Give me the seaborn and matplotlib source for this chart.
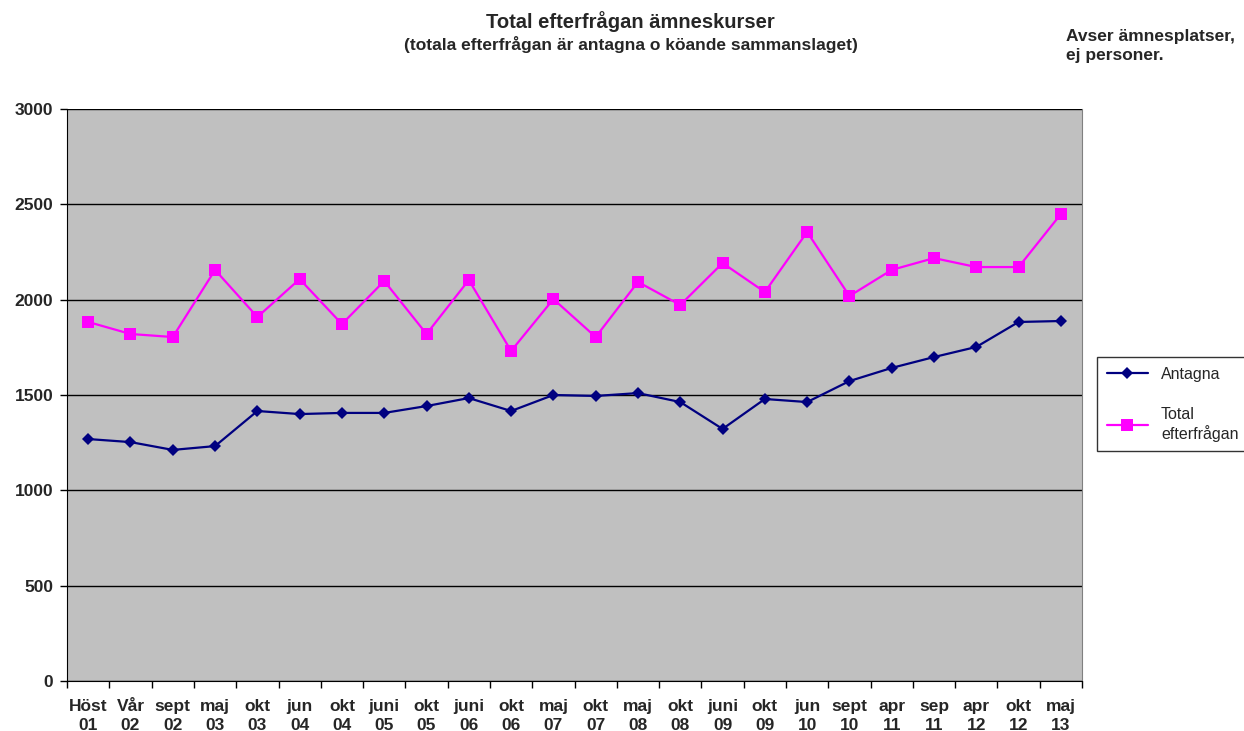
import numpy as np
import pandas as pd
import matplotlib
matplotlib.use("Agg")
import matplotlib.pyplot as plt
import seaborn as sns
from matplotlib.ticker import FixedLocator

# ==========================================
# DATA
# ==========================================
periods = ["Höst\n01", "Vår\n02", "sept\n02", "maj\n03", "okt\n03", "jun\n04",
           "okt\n04", "juni\n05", "okt\n05", "juni\n06", "okt\n06", "maj\n07",
           "okt\n07", "maj\n08", "okt\n08", "juni\n09", "okt\n09", "jun\n10",
           "sept\n10", "apr\n11", "sep\n11", "apr\n12", "okt\n12", "maj\n13"]
antagna = [1269, 1253, 1212, 1232, 1416, 1400, 1406, 1406, 1442, 1484, 1416, 1500,
           1495, 1510, 1463, 1322, 1479, 1463, 1573, 1642, 1699, 1752, 1883, 1888]
total = [1883, 1820, 1804, 2156, 1909, 2108, 1872, 2098, 1820, 2103, 1731, 2003,
         1804, 2093, 1972, 2192, 2040, 2355, 2019, 2156, 2218, 2171, 2171, 2449]

df = pd.DataFrame({"pos": np.arange(len(periods)), "Antagna": antagna,
                   "Total\nefterfrågan": total})
long_df = df.melt(id_vars="pos", var_name="serie", value_name="antal")

# ==========================================
# STYLE
# ==========================================
sns.set_style("white")
plt.rcParams["font.family"] = ["Liberation Sans", "DejaVu Sans"]

fig = plt.figure(figsize=(12.44, 7.31), dpi=100)
ax = fig.add_axes([0.0539, 0.0684, 0.8159, 0.7825])
ax.set_facecolor("#C0C0C0")

sns.lineplot(data=long_df, x="pos", y="antal", hue="serie", style="serie",
             palette={"Antagna": "#000080", "Total\nefterfrågan": "#FF00FF"},
             markers={"Antagna": "D", "Total\nefterfrågan": "s"},
             dashes=False, linewidth=1.6, markeredgewidth=0, ax=ax,
             legend=True)
for line in ax.get_lines():
    if line.get_marker() == "D":
        line.set_markersize(6)
    elif line.get_marker() == "s":
        line.set_markersize(9)

# axes
ax.set_xlim(-0.5, len(periods) - 0.5)
ax.set_ylim(0, 3000)
ax.set_yticks(np.arange(0, 3001, 500))
ax.yaxis.grid(True, color="black", linewidth=1)
ax.set_axisbelow(True)
ax.set_xlabel("")
ax.set_ylabel("")

ax.set_xticks(np.arange(len(periods)))
ax.set_xticklabels(periods, fontsize=12.5, fontweight="bold", linespacing=1.3)
ax.xaxis.set_minor_locator(FixedLocator(np.arange(-0.5, len(periods), 1.0)))
ax.tick_params(axis="x", which="major", length=0, pad=13)
ax.tick_params(axis="x", which="minor", length=5, width=1, color="black",
               direction="out", bottom=True)
ax.tick_params(axis="y", length=5, width=1, color="black", direction="out",
               left=True, labelsize=12.5, pad=5)
for lab in ax.get_yticklabels():
    lab.set_fontweight("bold")

ax.spines["left"].set_color("black")
ax.spines["bottom"].set_color("black")
ax.spines["top"].set_visible(False)
ax.spines["right"].set_color("#808080")

# legend
handles, labels = ax.get_legend_handles_labels()
leg = ax.legend(handles, labels, loc="upper left",
                bbox_to_anchor=(1097 / 1244, 1 - 357 / 731),
                bbox_transform=fig.transFigure, frameon=True, fancybox=False,
                edgecolor="black", fontsize=11.5, labelspacing=1.6,
                handlelength=2.6, borderpad=0.6, borderaxespad=0)
leg.get_frame().set_linewidth(1.0)

# titles
fig.text(0.507, 0.971, "Total efterfrågan ämneskurser", ha="center", va="center",
         fontsize=14.5, fontweight="bold")
fig.text(0.507, 0.939, "(totala efterfrågan är antagna o köande sammanslaget)",
         ha="center", va="center", fontsize=12.5, fontweight="bold")
fig.text(0.857, 0.937, "Avser ämnesplatser,\nej personer.", ha="left", va="center",
         fontsize=12.5, fontweight="bold", linespacing=1.3)

plt.savefig("out.png", dpi=100)
